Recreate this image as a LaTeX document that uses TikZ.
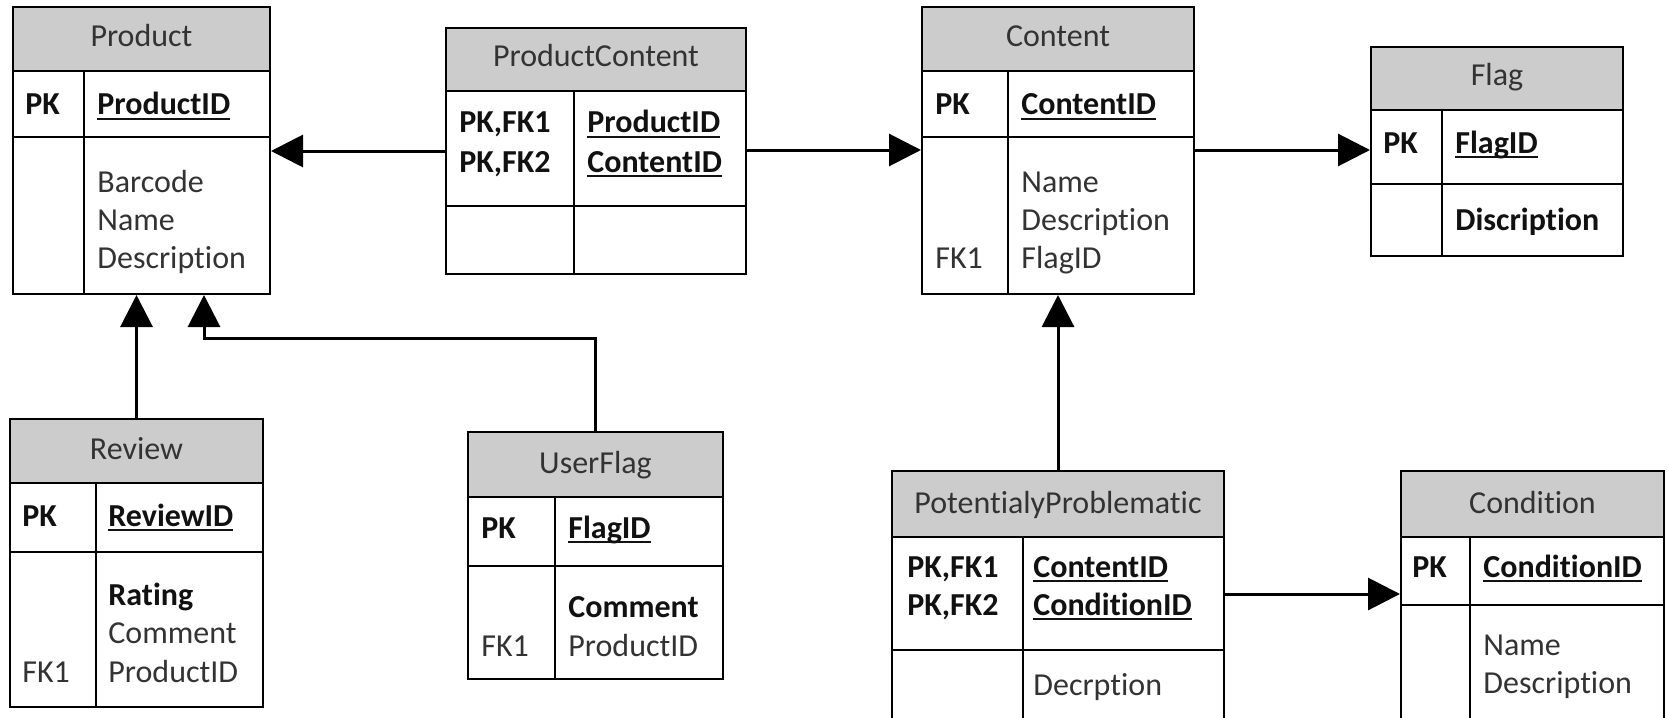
\documentclass[tikz,border=0pt]{standalone}
\usepackage{fontspec}
\setmainfont{Carlito}[RawFeature={-liga}]
\usetikzlibrary{arrows.meta}
\definecolor{hdrfill}{HTML}{CCCCCC}
\definecolor{txtgray}{HTML}{333333}
\definecolor{txtdark}{HTML}{111111}
\newcommand{\ulx}[1]{\setbox0\hbox{#1}\rlap{\rule[-2.6pt]{\wd0}{1pt}}\box0}
\tikzset{
  tablebox/.style={draw=black, line width=1pt, inner sep=0pt, fill=none},
  rule/.style={draw=black, line width=1pt},
  hdrtext/.style={anchor=base, inner sep=0pt, text=txtgray, font=\fontsize{16}{19}\selectfont},
  txt/.style={anchor=base west, inner sep=0pt, text=txtgray, font=\fontsize{16}{19}\selectfont},
  bld/.style={anchor=base west, inner sep=0pt, text=txtdark, font=\fontsize{16}{19}\selectfont\bfseries},
  conn/.style={draw=black, line width=1.5pt, -{Triangle[length=16pt,width=16pt]}}
}
% name, x1, y1, x2, y2, header bottom, key row bottom, divider x, title
\newcommand{\ertable}[9]{%
  \fill[hdrfill] (#2,#3) rectangle (#4,#6);
  \node[tablebox, minimum width={(#4-#2)*0.5pt}, minimum height={(#5-#3)*0.5pt}] (#1) at ({(#2+#4)/2},{(#3+#5)/2}) {};
  \draw[rule] (#2,#6) -- (#4,#6) (#2,#7) -- (#4,#7) (#8,#6) -- (#8,#5);
  \node[hdrtext] (#1-title) at ({(#2+#4)/2},{#6-24}) {#9};
}
\begin{document}
\begin{tikzpicture}[x=0.5pt,y=-0.5pt]
\useasboundingbox (0,0) rectangle (1669,717);
\clip (0,0) rectangle (1669,717);
\fill[white] (0,0) rectangle (1669,717);

% Product
\ertable{product}{13}{7}{270}{294}{71}{137}{84}{Product}
\node[bld] (p-pk) at (25,115) {PK};
\node[bld] (p-id) at (97,115) {\ulx{ProductID}};
\node[txt] (p-a1) at (97,192) {Barcode};
\node[txt] (p-a2) at (97,230) {Name};
\node[txt] (p-a3) at (97,268) {Description};

% ProductContent
\ertable{pc}{446}{28}{746}{274}{91}{206}{574}{ProductContent}
\node[bld] (pc-k1) at (459,133) {PK,FK1};
\node[bld] (pc-k2) at (459,172) {PK,FK2};
\node[bld] (pc-f1) at (587,133) {\ulx{ProductID}};
\node[bld] (pc-f2) at (587,172) {\ulx{ContentID}};

% Content
\ertable{content}{922}{7}{1194}{294}{71}{137}{1008}{Content}
\node[bld] (c-pk) at (935,115) {PK};
\node[bld] (c-id) at (1021,115) {\ulx{ContentID}};
\node[txt] (c-a1) at (1021,192) {Name};
\node[txt] (c-a2) at (1021,230) {Description};
\node[txt] (c-fk) at (935,268) {FK1};
\node[txt] (c-a3) at (1021,268) {FlagID};

% Flag
\ertable{flag}{1371}{47}{1623}{256}{110}{184}{1442}{Flag}
\node[bld] (f-pk) at (1383,153) {PK};
\node[bld] (f-id) at (1455,153) {\ulx{FlagID}};
\node[bld] (f-a1) at (1455,230) {Discription};

% Review
\ertable{review}{10}{419}{263}{707}{483}{552}{96}{Review}
\node[bld] (r-pk) at (22,526) {PK};
\node[bld] (r-id) at (108,526) {\ulx{ReviewID}};
\node[bld] (r-a1) at (108,605) {Rating};
\node[txt] (r-a2) at (108,643) {Comment};
\node[txt] (r-fk) at (22,682) {FK1};
\node[txt] (r-a3) at (108,682) {ProductID};

% UserFlag
\ertable{userflag}{468}{432}{723}{679}{497}{566}{555}{UserFlag}
\node[bld] (u-pk) at (481,538) {PK};
\node[bld] (u-id) at (568,538) {\ulx{FlagID}};
\node[bld] (u-a1) at (568,617) {Comment};
\node[txt] (u-fk) at (481,656) {FK1};
\node[txt] (u-a2) at (568,656) {ProductID};

% PotentialyProblematic
\ertable{pp}{892}{471}{1224}{740}{537}{650}{1023}{PotentialyProblematic}
\node[bld] (pp-k1) at (907,577) {PK,FK1};
\node[bld] (pp-k2) at (907,615) {PK,FK2};
\node[bld] (pp-f1) at (1033,577) {\ulx{ContentID}};
\node[bld] (pp-f2) at (1033,615) {\ulx{ConditionID}};
\node[txt] (pp-a1) at (1033,695) {Decrption};

% Condition
\ertable{condition}{1401}{471}{1664}{740}{537}{605}{1470}{Condition}
\node[bld] (cd-pk) at (1412,577) {PK};
\node[bld] (cd-id) at (1483,577) {\ulx{ConditionID}};
\node[txt] (cd-a1) at (1483,655) {Name};
\node[txt] (cd-a2) at (1483,693) {Description};

% connectors
\coordinate (y151) at (0,151);
\coordinate (y150) at (0,150);
\coordinate (y594) at (0,594);
\coordinate (ufbend) at (204,338);
\draw[conn] (pc.west |- y151) -- (product.east |- y151);
\draw[conn] (pc.east |- y150) -- (content.west |- y150);
\draw[conn] (content.east |- y150) -- (flag.west |- y150);
\draw[conn] (review.north) -- (product.south -| review.north);
\draw[conn] (userflag.north) |- (ufbend) -- (product.south -| ufbend);
\draw[conn] (pp.north) -- (content.south -| pp.north);
\draw[conn] (pp.east |- y594) -- (condition.west |- y594);
\end{tikzpicture}
\end{document}
